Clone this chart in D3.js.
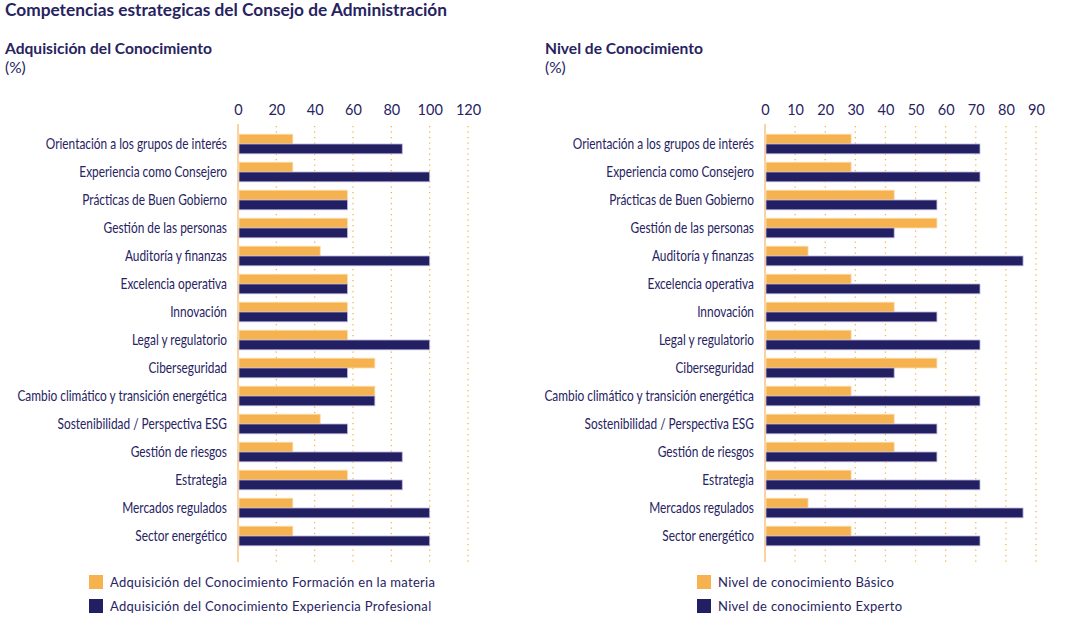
<html>
<head>
<meta charset="utf-8">
<style>
  body { margin: 0; background: #fff; }
  text { fill: #27235f; }
  .cat { font-family: Lato, sans-serif; font-size: 14.5px; }
  .tick-lab { font-family: Lato, sans-serif; font-weight: 400; font-size: 14.5px; }
  .legend { font-family: Lato, sans-serif; font-size: 13px; letter-spacing: 0.3px; }
</style>
</head>
<body>

<svg width="1068" height="619" id="chart"></svg>

<script src="https://d3js.org/d3.v7.min.js"></script>

<script>
// categorias (mismo orden en ambos graficos)
var categories = [
    "Orientación a los grupos de interés",
    "Experiencia como Consejero",
    "Prácticas de Buen Gobierno",
    "Gestión de las personas",
    "Auditoría y finanzas",
    "Excelencia operativa",
    "Innovación",
    "Legal y regulatorio",
    "Ciberseguridad",
    "Cambio climático y transición energética",
    "Sostenibilidad / Perspectiva ESG",
    "Gestión de riesgos",
    "Estrategia",
    "Mercados regulados",
    "Sector energético"
];

// Adquisicion del conocimiento (%)
var formacion   = [28.6, 28.6, 57.1, 57.1, 42.9, 57.1, 57.1, 57.1, 71.4, 71.4, 42.9, 28.6, 57.1, 28.6, 28.6];
var experiencia = [85.7, 100, 57.1, 57.1, 100, 57.1, 57.1, 100, 57.1, 71.4, 57.1, 85.7, 85.7, 100, 100];

// Nivel de conocimiento (%)
var basico  = [28.6, 28.6, 42.9, 57.1, 14.3, 28.6, 42.9, 28.6, 57.1, 28.6, 42.9, 42.9, 28.6, 14.3, 28.6];
var experto = [71.4, 71.4, 57.1, 42.9, 85.7, 71.4, 57.1, 71.4, 42.9, 71.4, 57.1, 57.1, 71.4, 85.7, 71.4];

var ticksLeft  = [0, 20, 40, 60, 80, 100, 120];
var ticksRight = [0, 10, 20, 30, 40, 50, 60, 70, 80, 90];

var legendLeft  = ["Adquisición del Conocimiento Formación en la materia", "Adquisición del Conocimiento Experiencia Profesional"];
var legendRight = ["Nivel de conocimiento Básico", "Nivel de conocimiento Experto"];

var orange = "#f6b24e";
var navy = "#231f63";

var svg = d3.select("#chart");

svg.append("text")
    .attr("x", 5).attr("y", 16)
    .style("font-family", "Lato, sans-serif")
    .style("font-weight", "bold")
    .style("font-size", "17.3px")
    .text("Competencias estrategicas del Consejo de Administración");

function draw(opts) {
    var x = d3.scaleLinear().domain(opts.domain).range([opts.x0, opts.x1]);
    var y = d3.scaleBand().domain(categories).range([130, 130 + 28 * categories.length]).paddingInner(0.3).paddingOuter(0.15);
    var y2 = d3.scaleBand().domain(["a", "b"]).range([0, y.bandwidth()]);

    var g = svg.append("g");

    g.append("text")
        .attr("x", opts.titleX).attr("y", 54)
        .style("font-family", "Lato, sans-serif")
        .style("font-weight", "bold")
        .style("font-size", "15.6px")
        .text(opts.title);
    g.append("text")
        .attr("x", opts.titleX).attr("y", 73)
        .style("font-family", "Lato, sans-serif")
        .style("font-size", "15.5px")
        .text("(%)");

    // rejilla punteada
    g.selectAll(".grid")
        .data(opts.ticks.slice(1))
      .enter().append("line")
        .attr("x1", function(d){ return x(d); })
        .attr("x2", function(d){ return x(d); })
        .attr("y1", 126).attr("y2", 562)
        .style("stroke", orange)
        .style("stroke-width", 1.3)
        .style("stroke-dasharray", "1.3,4.2");

    // eje superior
    var axis = d3.axisTop(x).tickValues(opts.ticks).tickSize(0).tickPadding(0);
    var ax = g.append("g").attr("transform", "translate(0,115)").call(axis);
    ax.select(".domain").remove();
    ax.selectAll("text").attr("class", "tick-lab").attr("dy", 0).attr("fill", null);

    g.append("line")
        .attr("x1", x(0)).attr("x2", x(0))
        .attr("y1", 124).attr("y2", 562)
        .style("stroke", "#fbd3a0")
        .style("stroke-width", 2);

    var rows = g.selectAll(".row")
        .data(categories)
      .enter().append("g")
        .attr("class", "row")
        .attr("transform", function(d){ return "translate(0," + y(d) + ")"; });

    // etiquetas estrechas (fuente condensada)
    rows.append("text")
        .attr("class", "cat")
        .attr("transform", "translate(" + (x(0) - 11) + "," + (y.bandwidth() / 2) + ") scale(0.82,1)")
        .attr("dy", "0.35em")
        .attr("text-anchor", "end")
        .text(function(d){ return d; });

    rows.append("rect")
        .attr("x", x(0) + 1)
        .attr("y", y2("a"))
        .attr("width", function(d, i){ return x(opts.a[i]) - x(0) - 1; })
        .attr("height", y2.bandwidth())
        .style("fill", orange)
        .style("stroke", "#fcdcae")
        .style("stroke-width", 0.8);

    rows.append("rect")
        .attr("x", x(0) + 1)
        .attr("y", y2("b"))
        .attr("width", function(d, i){ return x(opts.b[i]) - x(0) - 1; })
        .attr("height", y2.bandwidth())
        .style("fill", navy)
        .style("stroke", "#b9b6d8")
        .style("stroke-width", 0.8);

    var leg = g.selectAll(".leg")
        .data(opts.legend)
      .enter().append("g")
        .attr("transform", function(d, i){ return "translate(" + opts.legendX + "," + (575 + i * 24) + ")"; });
    leg.append("rect")
        .attr("width", 14).attr("height", 14)
        .style("fill", function(d, i){ return i == 0 ? orange : navy; });
    leg.append("text")
        .attr("class", "legend")
        .attr("x", 21).attr("y", 7).attr("dy", "0.35em")
        .text(function(d){ return d; });
}

draw({ title: "Adquisición del Conocimiento", titleX: 5, domain: [0, 120], x0: 238, x1: 468,
       ticks: ticksLeft, a: formacion, b: experiencia, legend: legendLeft, legendX: 89 });
draw({ title: "Nivel de Conocimiento", titleX: 545, domain: [0, 90], x0: 765, x1: 1036,
       ticks: ticksRight, a: basico, b: experto, legend: legendRight, legendX: 697 });
</script>

</body>
</html>
